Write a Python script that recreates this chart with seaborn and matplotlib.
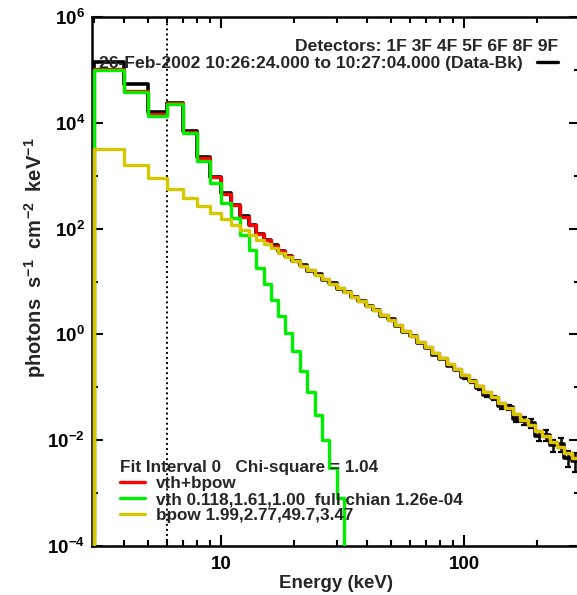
import numpy as np
import matplotlib
matplotlib.use("Agg")
import matplotlib.pyplot as plt
from matplotlib.lines import Line2D
from matplotlib.ticker import FixedLocator, FuncFormatter, NullFormatter
import seaborn as sns

# ---------------- data ----------------
edges = [3, 4, 5, 6, 7, 8, 9, 10, 11, 12, 13, 14, 15, 16,
         17.15, 18.4, 19.7, 21.1, 22.6, 24.3, 26.0, 27.9, 29.9, 32.0,
         34.3, 36.8, 39.4, 42.3, 45.3, 48.6, 52.1, 55.8, 59.9, 64.2,
         68.8, 73.8, 79.1, 84.8, 90.9, 97.5, 104.5, 112, 120, 129,
         138, 148, 159, 170, 183, 196, 210, 225, 241, 259,
         277, 297, 318]

data_bk = [1.4e5, 5.4e4, 1.6e4, 2.4e4, 7.0e3, 2.25e3, 950, 470, 285, 172, 118, 80, 61,
           49.2, 37.1, 30.7, 23.9, 20.3, 15.8, 14.0, 10.9, 9.18, 7.21,
           6.40, 5.02, 4.31, 3.38, 2.87, 2.25, 1.97, 1.455, 1.11, 0.926,
           0.678, 0.555, 0.413, 0.346, 0.258, 0.209, 0.154, 0.130, 0.0972, 0.0728,
           0.063, 0.0434, 0.042, 0.0257, 0.0234, 0.0211, 0.0121, 0.0125, 0.0080, 0.00846,
           0.00462, 0.0041, 0.00395]

vth_bpow = [103150, 39570, 14402, 23566, 6781, 2171, 928, 450, 276, 168.6, 115, 79.5, 60.2,
            46.9, 37.1, 29.85, 24.38, 19.9, 16.28, 13.43, 11.01, 9.093, 7.511,
            6.21, 5.12, 4.23, 3.48, 2.87, 2.37, 1.91, 1.50, 1.18, 0.926,
            0.729, 0.572, 0.449, 0.353, 0.277, 0.2175, 0.171, 0.134, 0.1056, 0.0827,
            0.0649, 0.0511, 0.040, 0.0314, 0.0246, 0.0192, 0.01516, 0.01193, 0.00939, 0.00736,
            0.00578, 0.00456, 0.00359]

vth = [1.0e5, 3.8e4, 1.35e4, 2.3e4, 6.4e3, 1.9e3, 730, 300, 160, 76, 40, 18, 9,
       4.5, 2.2, 1.05, 0.48, 0.2, 0.08, 0.03, 0.01, 0.003, 8e-4, 4e-5]

bpow = [3150, 1570, 902, 566, 381, 271, 198, 150, 116, 92.6, 75, 61.5, 51.2,
        42.4, 34.9, 28.8, 23.9, 19.7, 16.2, 13.4, 11.0, 9.09, 7.51,
        6.21, 5.12, 4.23, 3.48, 2.87, 2.37, 1.91, 1.50, 1.18, 0.926,
        0.729, 0.572, 0.449, 0.353, 0.277, 0.2175, 0.171, 0.134, 0.1056, 0.0827,
        0.0649, 0.0511, 0.040, 0.0314, 0.0246, 0.0192, 0.01516, 0.01193, 0.00939, 0.00736,
        0.00578, 0.00456, 0.00359]

# relative errors of the data for the high-energy bins (from 97.5 keV on)
err_first_bin = 39
data_err_frac = [0.05, 0.06, 0.07, 0.08, 0.09, 0.10, 0.12, 0.14, 0.16, 0.18,
                 0.20, 0.23, 0.26, 0.30, 0.34, 0.38, 0.42]

vline_kev = 6.0
x_ticks_major = [10, 100]
x_ticks_minor = [3, 4, 5, 6, 7, 8, 9, 20, 30, 40, 50, 60, 70, 80, 90, 200, 300]
y_ticks_major = [1e-4, 1e-2, 1e0, 1e2, 1e4, 1e6]
y_ticks_minor = [1e-3, 1e-1, 1e1, 1e3, 1e5]

title_det = "Detectors: 1F 3F 4F 5F 6F 8F 9F"
label_data = "26-Feb-2002 10:26:24.000 to 10:27:04.000 (Data-Bk)"
fit_title = "Fit Interval 0   Chi-square = 1.04"
fit_labels = ["vth+bpow", "vth 0.118,1.61,1.00  full chian 1.26e-04",
              "bpow 1.99,2.77,49.7,3.47"]

C_BLACK = "#000000"
C_RED = "#ff0000"
C_GREEN = "#00ee00"
C_YELLOW = "#d4c800"

# ---------------- style ----------------
sns.set_style("ticks")
plt.rcParams["font.family"] = ["Liberation Sans", "DejaVu Sans"]
plt.rcParams["font.weight"] = "bold"
plt.rcParams["mathtext.fontset"] = "custom"
plt.rcParams["mathtext.rm"] = "Liberation Sans:bold"
plt.rcParams["mathtext.bf"] = "Liberation Sans:bold"
plt.rcParams["mathtext.it"] = "Liberation Sans:bold"
plt.rcParams["mathtext.default"] = "rm"

fig = plt.figure(figsize=(5.77, 5.95), dpi=100)
ax = fig.add_axes([92 / 577, 49 / 595, 488 / 577, 529 / 595])
ax.set_xscale("log")
ax.set_yscale("log")


def stairs(vals, color, lw, z):
    e = edges[:len(vals) + 1]
    x = [e[0]] + list(e)
    y = [1e-12] + list(vals) + [vals[-1]]
    sns.lineplot(x=x, y=y, drawstyle="steps-post", estimator=None, sort=False,
                 color=color, lw=lw, ax=ax, zorder=z, legend=False)


stairs(data_bk, C_BLACK, 2.6, 3)
centers = np.sqrt(np.array(edges[:-1]) * np.array(edges[1:]))
eb_x = centers[err_first_bin:err_first_bin + len(data_err_frac)]
eb_y = np.array(data_bk[err_first_bin:err_first_bin + len(data_err_frac)])
ax.errorbar(eb_x, eb_y, yerr=eb_y * np.array(data_err_frac), fmt="none",
            ecolor=C_BLACK, elinewidth=1.8, capsize=2, capthick=1.6, zorder=3)
stairs(vth_bpow, C_RED, 2.4, 4)
stairs(vth, C_GREEN, 2.4, 5)
stairs(bpow, C_YELLOW, 2.4, 6)

ax.axvline(vline_kev, color="black", ls=(0, (1, 1.6)), lw=1.4, zorder=2)

ax.set_xlim(2.95, 300)
ax.set_ylim(1e-4, 1e6)

# ticks
ax.xaxis.set_major_locator(FixedLocator(x_ticks_major))
ax.xaxis.set_minor_locator(FixedLocator(x_ticks_minor))
ax.xaxis.set_major_formatter(FuncFormatter(lambda v, p: "%d" % v))
ax.xaxis.set_minor_formatter(NullFormatter())
ax.yaxis.set_major_locator(FixedLocator(y_ticks_major))
ax.yaxis.set_minor_locator(FixedLocator(y_ticks_minor))
ax.yaxis.set_major_formatter(FuncFormatter(lambda v, p: r"$10^{%d}$" % round(np.log10(v))))
ax.yaxis.set_minor_formatter(NullFormatter())
ax.tick_params(which="both", direction="in", top=True, right=True, width=1.5,
               colors="black", labelsize=13.5)
ax.tick_params(which="major", length=8)
ax.tick_params(axis="x", which="major", pad=7)
ax.tick_params(axis="y", which="major", pad=5)
ax.tick_params(which="minor", length=4.5)
for sp in ax.spines.values():
    sp.set_linewidth(1.8)
    sp.set_color("black")
    sp.set_visible(True)

ax.set_xlabel("Energy (keV)", fontsize=13.5, fontweight="bold")
ax.xaxis.set_label_coords(0.5, -0.054)
ax.set_ylabel(r"photons  s$^{-1}$  cm$^{-2}$  keV$^{-1}$", fontsize=14.5,
              fontweight="bold")
ax.yaxis.set_label_coords(-0.09, 0.545)

# legends
h_data = [Line2D([], [], color=C_BLACK, lw=2.4)]
leg1 = ax.legend(h_data, [label_data], title=title_det, loc="upper right",
                 bbox_to_anchor=(0.955, 0.958), frameon=False, markerfirst=False,
                 handlelength=1.2, handletextpad=0.8, borderaxespad=0, borderpad=0,
                 labelspacing=0.1, alignment="right",
                 prop={"size": 12.6, "weight": "bold"},
                 title_fontproperties={"size": 12.6, "weight": "bold"})
ax.add_artist(leg1)

h_fit = [Line2D([], [], color=c, lw=2.4) for c in (C_RED, C_GREEN, C_YELLOW)]
leg2 = ax.legend(h_fit, fit_labels, title=fit_title, loc="lower left",
                 bbox_to_anchor=(0.058, 0.043), frameon=False,
                 handlelength=1.45, handletextpad=0.65, borderaxespad=0, borderpad=0,
                 labelspacing=0.06, alignment="left",
                 prop={"size": 12.3, "weight": "bold"},
                 title_fontproperties={"size": 12.3, "weight": "bold"})
leg2._legend_box.sep = 1

fig.savefig("out.png", dpi=100, facecolor="white")
